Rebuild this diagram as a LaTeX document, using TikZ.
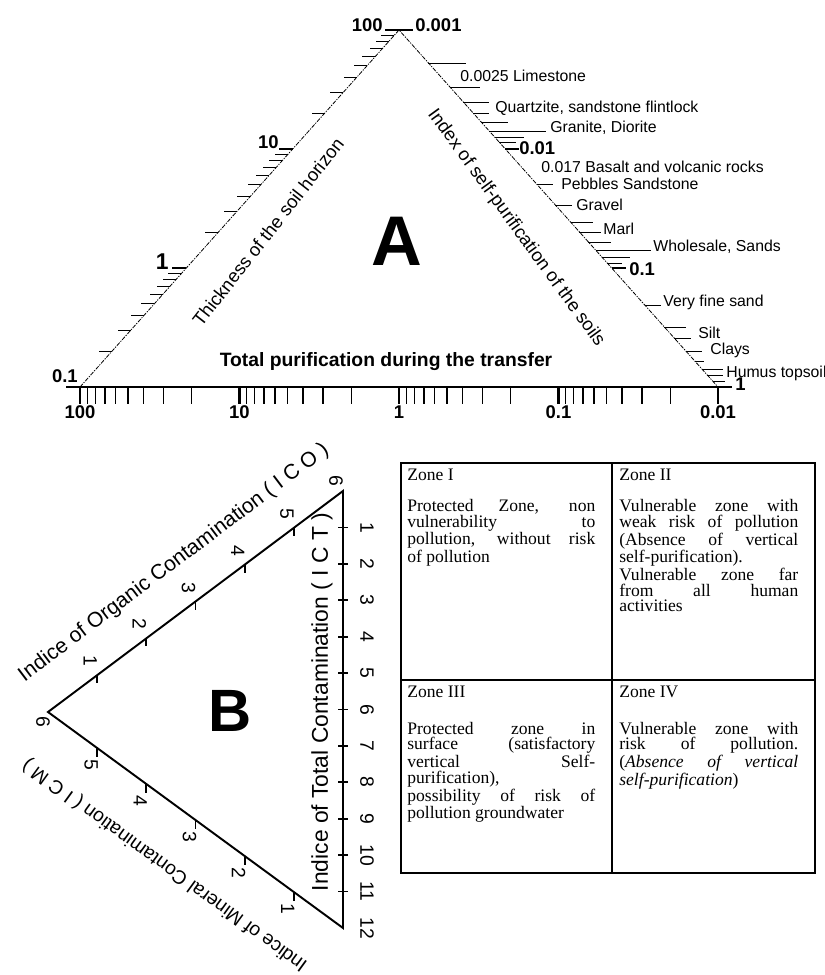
\documentclass[tikz,border=0pt]{standalone}
\usepackage{fontspec}
\setmainfont{Liberation Serif}
\setsansfont{Liberation Sans}
\usetikzlibrary{calc}
\hbadness=10000
\begin{document}
\begin{tikzpicture}[x=0.02cm, y=-0.02cm,
	sideline/.style={line width=0.45pt, dash pattern=on 2.4pt off 0.7pt on 0.7pt off 0.7pt},
	mintick/.style={line width=0.55pt},
	midtick/.style={line width=1pt},
	majtick/.style={line width=1.5pt},
	rocklbl/.style={anchor=west, inner sep=0pt, font=\sffamily\fontsize{9}{10}\selectfont},
	scalelbl/.style={inner sep=0pt, font=\sffamily\bfseries\fontsize{10.5}{11}\selectfont},
	axtitle/.style={inner sep=0pt, font=\sffamily\fontsize{10.5}{12}\selectfont},
	tribig/.style={inner sep=0pt, font=\sffamily\bfseries\fontsize{40}{40}\selectfont},
	bside/.style={line width=1.1pt},
	btick/.style={line width=1pt},
	bnum/.style={inner sep=0pt, rotate=-90, font=\sffamily\fontsize{11}{12}\selectfont},
	btitle/.style={inner sep=0pt, font=\sffamily\fontsize{11.5}{12}\selectfont},
	cellbox/.style={anchor=north west, inner sep=0pt, align=justify, font=\fontsize{10}{8.8}\selectfont}
	]
	\useasboundingbox (0,0) rectangle (825,975);
	
	\def \DecW {159.5} % one decade on the base, in px
	
	%%% triangle A
	\coordinate (AL) at (80,387);
	\coordinate (AT) at (399,30);
	\coordinate (AR) at (718,387);
	\draw[sideline] (AL) -- (AT) -- (AR);
	\draw[line width=0.7pt] (AL) -- (AR);
	
	% base scale
	\foreach \d in {0,...,3}{
		\foreach \m in {3,...,7}
			\draw[midtick] ($(AL)+({\DecW*(\d+1-log10(\m))},0)$) -- ++(0,17);
		\foreach \m in {2,8,9}
			\draw[mintick] ($(AL)+({\DecW*(\d+1-log10(\m))},0)$) -- ++(0,17);
	}
	\foreach \d in {0,...,4}
		\draw[majtick] ($(AL)+(\d*\DecW,0)$) -- ++(0,17);
	\foreach \v [count=\i from 0] in {100,10,1,0.1,0.01}
		\node (bx\i) at ($(AL)+(\i*\DecW,25)$) [scalelbl]{\v};
	
	% left scale (log, 0.1 to 100)
	\foreach \d in {0,1,2}{
		\foreach \m in {2,...,9}
			\draw[mintick] ($(AL)!{(\d+log10(\m))/3}!(AT)$) -- ++(-13,0);
	}
	\foreach \f in {0,1,2,3}
		\draw[majtick] ($(AL)!\f/3!(AT)$) -- ++(-14,0);
	\node (ly0) at (78,376) [scalelbl, anchor=east]{0.1};
	\node (ly1) at (169,262) [scalelbl, anchor=east, font=\sffamily\bfseries\fontsize{13}{13}\selectfont]{1};
	\node (ly2) at (279,142) [scalelbl, anchor=east]{10};
	\node (ly3) at (383,25) [scalelbl, anchor=east]{100};
	
	% right scale
	\foreach \y/\l in {63/38,87/30,102/26,113/16,122/27,131/57,137/29,142/17,184/16,205/17,222/22,232/22,242/23,250/55,257/28,263/15,305/16,327/22,338/17,351/16,361/9,369/21,375/16,381/12}
		\draw[mintick] ($(AT)!{(\y-30)/357}!(AR)$) -- ++(\l,0);
	\foreach \f in {0,1,2,3}
		\draw[majtick] ($(AT)!\f/3!(AR)$) -- ++(14,0);
	\node (ry0) at (415,25) [scalelbl, anchor=west]{0.001};
	\node (ry1) at (519,148) [scalelbl, anchor=west]{0.01};
	\node (ry2) at (629,269) [scalelbl, anchor=west]{0.1};
	\node (ry3) at (735,384) [scalelbl, anchor=west]{1};
	
	\node (rk1) at (460,76) [rocklbl]{0.0025 Limestone};
	\node (rk2) at (495,108) [rocklbl]{Quartzite, sandstone flintlock};
	\node (rk3) at (550,128) [rocklbl]{Granite, Diorite};
	\node (rk4) at (541,167) [rocklbl]{0.017 Basalt and volcanic rocks};
	\node (rk5) at (561,184) [rocklbl]{Pebbles Sandstone};
	\node (rk6) at (576,205) [rocklbl]{Gravel};
	\node (rk7) at (603,229) [rocklbl]{Marl};
	\node (rk8) at (653,247) [rocklbl]{Wholesale, Sands};
	\node (rk9) at (663,302) [rocklbl]{Very fine sand};
	\node (rk10) at (698,333) [rocklbl]{Silt};
	\node (rk11) at (710,350) [rocklbl]{Clays};
	\node (rk12) at (726,373) [rocklbl]{Humus topsoil};
	
	\node (tA) at (397,241) [tribig]{A};
	\node (tThick) at (268,232) [axtitle, rotate=52]{Thickness of the soil horizon};
	\node (tSelf) at (516,228) [axtitle, rotate=-54]{Index of self-purification of the soils};
	\node (tTotal) at (386,362) [inner sep=0pt, font=\sffamily\bfseries\fontsize{11}{12}\selectfont]{Total purification during the transfer};
	
	%%% triangle B
	\coordinate (BL) at (48,712);
	\coordinate (BT) at (343,491);
	\coordinate (BB) at (343,928);
	\draw[bside] (BL) -- (BT) -- (BB) -- cycle;
	
	\foreach \k in {1,...,5}{
		\draw[btick] ($(BL)!\k/6!(BT)$) -- ++(0,8);
		\draw[btick] ($(BB)!\k/6!(BL)$) -- ++(0,9);
		\node (ico\k) at ($(BL)!\k/6!(BT)+(-7,-14)$) [bnum]{\k};
		\node (icm\k) at ($(BB)!\k/6!(BL)+(-6,17)$) [bnum]{\k};
	}
	\node (ico6) at (336,481) [bnum]{6};
	\node (icm6) at (43,722) [bnum]{6};
	\foreach \k in {1,...,11}
		\draw[btick] ($(BT)!\k/12!(BB)+(-5,0)$) -- ++(10,0);
	\foreach \k in {1,...,12}
		\node (ict\k) at ($(BT)!\k/12!(BB)+(24,0)$) [bnum]{\k};
	
	\node (tICO) at (174,563) [btitle, rotate=37, font=\sffamily\fontsize{12}{13}\selectfont]{Indice of Organic Contamination ( I C O )};
	\node (tICM) at (165,865) [btitle, rotate=144, font=\sffamily\fontsize{11}{12}\selectfont]{Indice of Mineral Contamination ( I C M )};
	\node (tICT) at (322,702) [btitle, rotate=90, font=\sffamily\fontsize{13}{14}\selectfont]{Indice of Total Contamination ( I C T )};
	\node (tB) at (230,711) [tribig, font=\sffamily\bfseries\fontsize{34}{34}\selectfont]{B};
	
	%%% zone table
	\coordinate (TNW) at (401,463);
	\coordinate (TSE) at (815,873);
	\coordinate (TN) at (612,463);
	\coordinate (TS) at (612,873);
	\coordinate (TW) at (401,680);
	\coordinate (TE) at (815,680);
	\draw[line width=1.1pt] (TNW) rectangle (TSE);
	\draw[line width=1.1pt] (TN) -- (TS);
	\draw[line width=1.1pt] (TW) -- (TE);
	
	\node (Z1) at (407,469) [cellbox, text width=3.76cm]{Zone I\par\vspace{8.8pt}
		Protected Zone, non\linebreak vulnerability to\linebreak pollution, without risk\linebreak of pollution};
	\node (Z2) at (619,469) [cellbox, text width=3.58cm]{Zone II\par\vspace{8.8pt}
		Vulnerable zone with\linebreak weak risk of pollution\linebreak (Absence of vertical\linebreak self-purification).\par
		Vulnerable zone far\linebreak from all human\linebreak activities};
	\node (Z3) at (407,686) [cellbox, text width=3.76cm]{Zone III\par\vspace{12pt}
		Protected zone in\linebreak surface (satisfactory\linebreak vertical Self-\linebreak purification),\par
		possibility of risk of\linebreak pollution groundwater};
	\node (Z4) at (619,686) [cellbox, text width=3.58cm]{Zone IV\par\vspace{12pt}
		Vulnerable zone with\linebreak risk of pollution.\linebreak (\textit{Absence of vertical\linebreak self-purification})};
	
\end{tikzpicture}
\end{document}
